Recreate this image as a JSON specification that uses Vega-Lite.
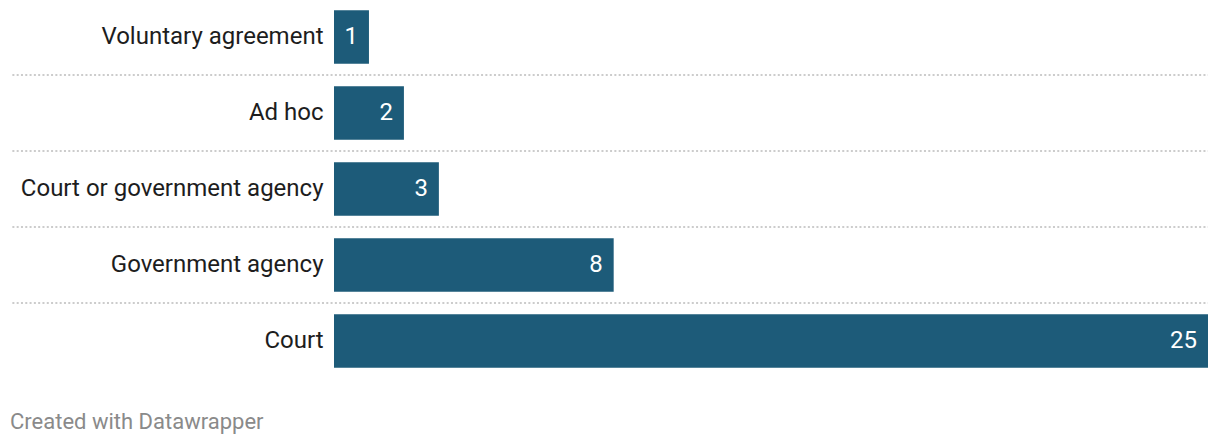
{
  "$schema": "https://vega.github.io/schema/vega-lite/v6.json",
  "autosize": {"type": "none"},
  "width": 874,
  "height": 378,
  "padding": {"left": 334, "top": 0, "right": 12, "bottom": 66},
  "background": "white",
  "config": {"view": {"stroke": null}, "font": "Roboto"},
  "title": {
    "text": "Created with Datawrapper",
    "orient": "bottom",
    "anchor": "start",
    "frame": "group",
    "dx": -324,
    "offset": 34,
    "font": "Roboto",
    "fontSize": 22,
    "fontWeight": "normal",
    "color": "#8a8a8a"
  },
  "data": {
    "values": [
      {"category": "Voluntary agreement", "count": 1},
      {"category": "Ad hoc", "count": 2},
      {"category": "Court or government agency", "count": 3},
      {"category": "Government agency", "count": 8},
      {"category": "Court", "count": 25}
    ]
  },
  "layer": [
    {
      "mark": {"type": "bar", "color": "#1d5b79"},
      "encoding": {
        "y": {
          "field": "category",
          "type": "nominal",
          "sort": ["Voluntary agreement", "Ad hoc", "Court or government agency", "Government agency", "Court"],
          "scale": {"paddingInner": 0.296, "paddingOuter": 0.135},
          "axis": {
            "title": null,
            "domain": false,
            "ticks": false,
            "labelPadding": 11,
            "labelFontSize": 24,
            "labelFont": "Roboto",
            "labelFontWeight": "normal",
            "labelColor": "#1d1d1d",
            "labelLimit": 400
          }
        },
        "x": {
          "field": "count",
          "type": "quantitative",
          "scale": {"domain": [0, 25], "nice": false},
          "axis": null
        }
      }
    },
    {
      "transform": [{"filter": "datum.category !== 'Voluntary agreement'"}],
      "mark": {"type": "rule", "color": "#cccccc", "strokeWidth": 2, "strokeDash": [2, 2.3], "yOffset": -38},
      "encoding": {
        "y": {"field": "category", "type": "nominal", "sort": ["Voluntary agreement", "Ad hoc", "Court or government agency", "Government agency", "Court"]},
        "x": {"datum": -9.2},
        "x2": {"datum": 25}
      }
    },
    {
      "mark": {"type": "text", "align": "right", "dx": -11, "color": "white", "fontSize": 24, "font": "Roboto", "baseline": "middle"},
      "encoding": {
        "y": {"field": "category", "type": "nominal", "sort": ["Voluntary agreement", "Ad hoc", "Court or government agency", "Government agency", "Court"]},
        "x": {"field": "count", "type": "quantitative"},
        "text": {"field": "count", "type": "quantitative"}
      }
    }
  ]
}
